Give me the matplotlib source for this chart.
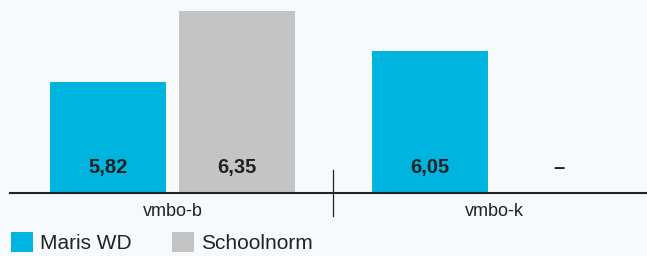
import numpy as np
import matplotlib
matplotlib.use('Agg')
import matplotlib.pyplot as plt

plt.rcParams['font.family'] = ['Liberation Sans', 'DejaVu Sans']

categories = ['vmbo-b', 'vmbo-k']
series = ['Maris WD', 'Schoolnorm']
maris_wd = [5.82, 6.05]
schoolnorm = [6.35, np.nan]   # no value for vmbo-k
colors = ['#00b4e0', '#c4c4c4']

BG = '#f6fafd'
INK = '#222222'

fig = plt.figure(figsize=(6.47, 2.56), dpi=100, facecolor=BG)
W, H = 647, 256
# axes placed in pixel terms: baseline at y=192.7, left edge at x=9.5
ax = fig.add_axes([9.5 / W, (H - 192.7) / H, (W - 9.5) / W, 188.4 / H])
ax.set_facecolor(BG)

x = np.arange(len(categories))
w = 0.36
off = 0.2
for vals, dx, c in [(maris_wd, -off, colors[0]), (schoolnorm, off, colors[1])]:
    ax.bar(x + dx, vals, w, color=c, label=None)
    for xi, v in zip(x + dx, vals):
        txt = '–' if np.isnan(v) else f'{v:.2f}'.replace('.', ',')
        ax.text(xi, 5.149, txt, ha='center', va='baseline',
                fontsize=14.5, fontweight='bold', color=INK)

ax.set_xlim(-0.506, 1.474)
ax.set_ylim(5.0, 6.4)

for s in ['top', 'right', 'left']:
    ax.spines[s].set_visible(False)
ax.spines['bottom'].set_linewidth(1.5)
ax.spines['bottom'].set_color(INK)
ax.set_yticks([])
ax.set_xticks([])

# group labels and divider
tr = ax.get_xaxis_transform()
for xi, lab in zip(x, categories):
    ax.text(xi, -0.124, lab, transform=tr, ha='center', va='baseline',
            fontsize=13, color=INK)
ax.plot([0.5, 0.5], [-0.124, 0.12], transform=tr, color=INK, lw=0.9,
        clip_on=False)

# legend
from matplotlib.patches import Patch
handles = [Patch(facecolor=c, edgecolor='none') for c in colors]
fs = 15
hs = 22 / (fs * 100 / 72)
fig.legend(handles, series, loc='lower left', bbox_to_anchor=(11 / W, 3 / H),
           ncol=2, frameon=False, fontsize=fs, handlelength=hs, handleheight=hs,
           handletextpad=0.34, columnspacing=1.92, borderpad=0, borderaxespad=0,
           labelcolor=INK)

fig.savefig('out.png', dpi=100, facecolor=BG)
